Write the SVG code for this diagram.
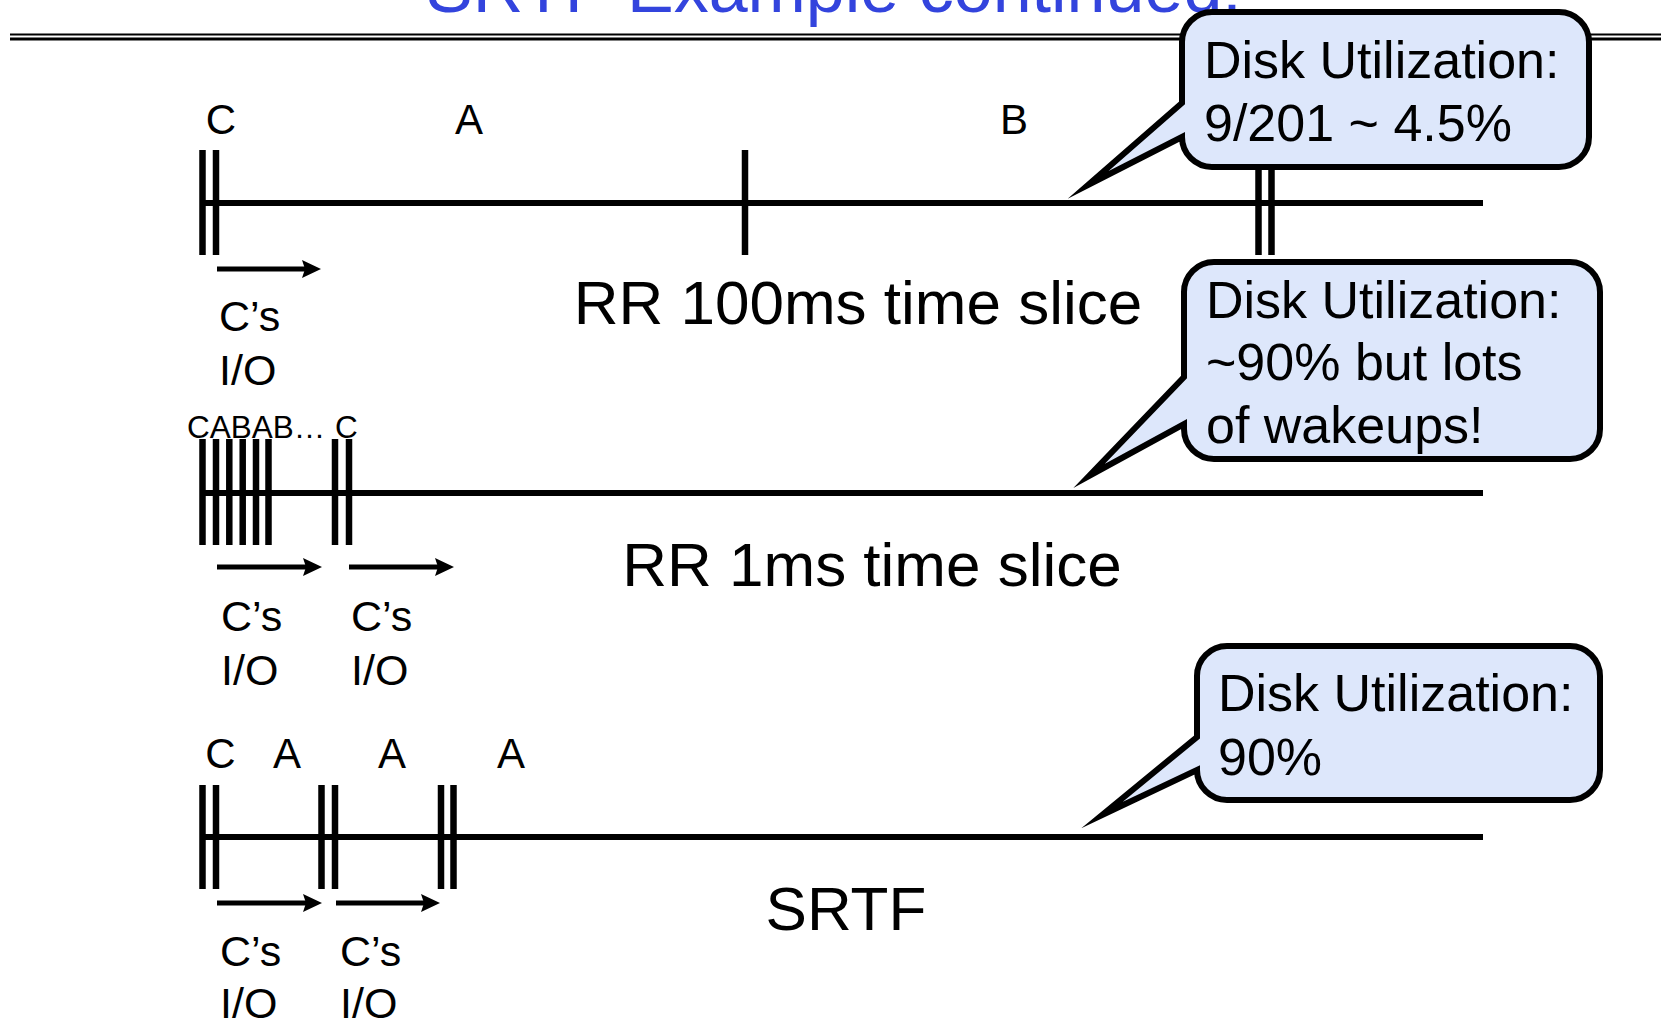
<svg xmlns="http://www.w3.org/2000/svg" width="1661" height="1021" viewBox="0 0 1661 1021">
<defs>
<style>
text{font-family:"Liberation Sans",Arial,Helvetica,sans-serif;fill:#000}
.title{font-size:70px;fill:#3344dd}
.lbl{font-size:42px;text-anchor:middle}
.io{font-size:43px}
.big{font-size:62px;text-anchor:middle}
.bt{font-size:52px}
.small{font-size:31.5px}
.tl{stroke:#000;stroke-width:6;fill:none}
.tk{stroke:#000;stroke-width:6.5;fill:none}
.arr{stroke:#000;stroke-width:5;fill:none;marker-end:url(#ah)}
.bub{fill:#dde7fb;stroke:#000;stroke-width:6;stroke-linejoin:miter;stroke-miterlimit:10}
</style>
<marker id="ah" markerUnits="userSpaceOnUse" markerWidth="22" markerHeight="20" refX="3" refY="9" orient="auto" overflow="visible">
<path d="M0,0 L19,9 L0,18 L3,9 Z" fill="#000"/>
</marker>
</defs>
<rect width="1661" height="1021" fill="#fff"/>
<g id="title">
<text class="title" x="426" y="12">SRTF Example continued:</text>
<line x1="10" y1="34.5" x2="1661" y2="34.5" stroke="#000" stroke-width="2"/>
<line x1="10" y1="39" x2="1661" y2="39" stroke="#000" stroke-width="3"/>
</g>
<g id="timeline-rr100">
<line class="tl" x1="200" y1="203" x2="1483" y2="203"/>
<line class="tk" x1="202.5" y1="150" x2="202.5" y2="255"/>
<line class="tk" x1="216" y1="150" x2="216" y2="255"/>
<line class="tk" x1="745" y1="150" x2="745" y2="255"/>
<line class="tk" x1="1258.5" y1="150" x2="1258.5" y2="255"/>
<line class="tk" x1="1271.5" y1="150" x2="1271.5" y2="255"/>
<text class="lbl" x="221" y="134">C</text>
<text class="lbl" x="469" y="134">A</text>
<text class="lbl" x="1014" y="134">B</text>
<text class="io" x="219" y="331">C’s</text>
<text class="io" x="219" y="385">I/O</text>
<text class="big" x="858" y="324">RR 100ms time slice</text>
</g>
<g id="timeline-rr1">
<line class="tl" x1="200" y1="493" x2="1483" y2="493"/>
<line class="tk" x1="202.5" y1="439" x2="202.5" y2="545"/>
<line class="tk" x1="216" y1="439" x2="216" y2="545"/>
<line class="tk" x1="229.3" y1="439" x2="229.3" y2="545"/>
<line class="tk" x1="242.7" y1="439" x2="242.7" y2="545"/>
<line class="tk" x1="256" y1="439" x2="256" y2="545"/>
<line class="tk" x1="268.5" y1="439" x2="268.5" y2="545"/>
<line class="tk" x1="335" y1="439" x2="335" y2="545"/>
<line class="tk" x1="349" y1="439" x2="349" y2="545"/>
<text class="small" x="187" y="438">CABAB…<tspan x="335">C</tspan></text>
<text class="io" x="221" y="631">C’s</text>
<text class="io" x="221" y="685">I/O</text>
<text class="io" x="351" y="631">C’s</text>
<text class="io" x="351" y="685">I/O</text>
<text class="big" x="872" y="586">RR 1ms time slice</text>
</g>
<g id="timeline-srtf">
<line class="tl" x1="200" y1="837" x2="1483" y2="837"/>
<line class="tk" x1="202.5" y1="785" x2="202.5" y2="889"/>
<line class="tk" x1="216" y1="785" x2="216" y2="889"/>
<line class="tk" x1="321.5" y1="785" x2="321.5" y2="889"/>
<line class="tk" x1="335" y1="785" x2="335" y2="889"/>
<line class="tk" x1="441" y1="785" x2="441" y2="889"/>
<line class="tk" x1="453.5" y1="785" x2="453.5" y2="889"/>
<text class="lbl" x="220.5" y="768">C</text>
<text class="lbl" x="287" y="768">A</text>
<text class="lbl" x="392" y="768">A</text>
<text class="lbl" x="511" y="768">A</text>
<text class="io" x="220" y="966">C’s</text>
<text class="io" x="220" y="1018">I/O</text>
<text class="io" x="340" y="966">C’s</text>
<text class="io" x="340" y="1018">I/O</text>
<text class="big" x="846" y="930">SRTF</text>
</g>
<g id="connectors">
<line class="arr" x1="217" y1="269" x2="305" y2="269"/>
<line class="arr" x1="217" y1="567" x2="306" y2="567"/>
<line class="arr" x1="349" y1="567" x2="438" y2="567"/>
<line class="arr" x1="217" y1="903" x2="306" y2="903"/>
<line class="arr" x1="336" y1="903" x2="424" y2="903"/>
</g>
<g id="bubble-rr100">
<path class="bub" d="M1212,12 H1559 A30,30 0 0 1 1589,42 V137 A30,30 0 0 1 1559,167 H1212 A30,30 0 0 1 1182,137 L1088,185 L1182,103 V42 A30,30 0 0 1 1212,12 Z"/>
<text class="bt" x="1204" y="78">Disk Utilization:</text>
<text class="bt" x="1204" y="141">9/201 ~ 4.5%</text>
</g>
<g id="bubble-rr1">
<path class="bub" d="M1214,262 H1570 A30,30 0 0 1 1600,292 V429 A30,30 0 0 1 1570,459 H1214 A30,30 0 0 1 1184,429 V424 L1089,476 L1184,377 V292 A30,30 0 0 1 1214,262 Z"/>
<text class="bt" x="1206" y="318">Disk Utilization:</text>
<text class="bt" x="1206" y="380">~90% but lots</text>
<text class="bt" x="1206" y="443">of wakeups!</text>
</g>
<g id="bubble-srtf">
<path class="bub" d="M1227,646 H1570 A30,30 0 0 1 1600,676 V770 A30,30 0 0 1 1570,800 H1227 A30,30 0 0 1 1197,770 L1102,815 L1197,737 V676 A30,30 0 0 1 1227,646 Z"/>
<text class="bt" x="1218" y="711">Disk Utilization:</text>
<text class="bt" x="1218" y="775">90%</text>
</g>
</svg>
